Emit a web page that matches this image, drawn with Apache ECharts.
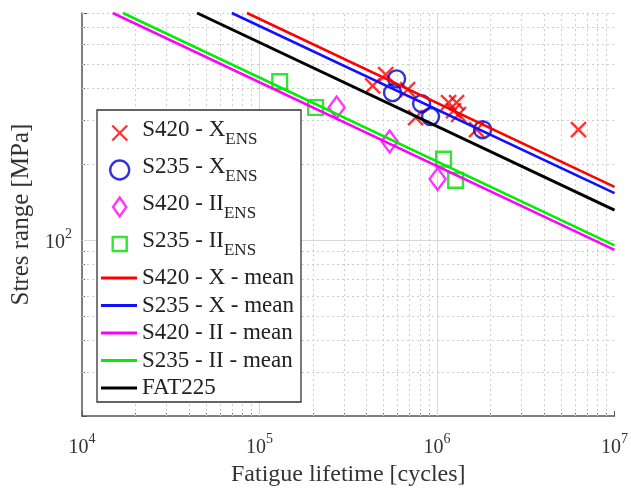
<!DOCTYPE html>
<html>
<head>
<meta charset="utf-8">
<script src="https://cdn.jsdelivr.net/npm/echarts@6/dist/echarts.min.js"></script>
<style>
html, body { margin: 0; padding: 0; background: #fff; }
#chart { width: 631px; height: 492px; }
</style>
</head>
<body>
<div id="chart"></div>
<script>
// test results: fatigue lifetime [cycles] / stress range [MPa]
var s420xN = [434000, 514000, 683000, 758000, 1162000, 1289000, 1240000, 1323000, 1671000, 6266000];
var s420xS = [411, 455, 397, 307, 352, 352, 327, 316, 275, 275];
var s235xN = [592000, 562000, 819000, 920000, 1806000];
var s235xS = [438, 386, 349, 310, 275];
var s420iiN = [272000, 541000, 1008000];
var s420iiS = [337, 247, 175];
var s235iiN = [130000, 207000, 1089000, 1273000];
var s235iiS = [427, 337, 210, 173];

// mean S-N curves (read at top edge and at 1e7)
var s420xMeanN = [85000, 1e7];
var s420xMeanS = [800, 163];
var s235xMeanN = [69800, 1e7];
var s235xMeanS = [800, 154];
var s420iiMeanN = [14900, 1e7];
var s420iiMeanS = [800, 91.5];
var s235iiMeanN = [17000, 1e7];
var s235iiMeanS = [800, 95.5];
var fatN = [44500, 1e7];
var fatS = [800, 131.6];

// grid lines
var majorX = [1e5, 1e6];
var majorY = [100];
var minorX = [2e4, 3e4, 4e4, 5e4, 6e4, 7e4, 8e4, 9e4,
              2e5, 3e5, 4e5, 5e5, 6e5, 7e5, 8e5, 9e5,
              2e6, 3e6, 4e6, 5e6, 6e6, 7e6, 8e6, 9e6];
var minorY = [30, 40, 50, 60, 70, 80, 90, 200, 300, 400, 500, 600, 700, 800];

var scatterNames = ['S420 - X_ENS', 'S235 - X_ENS', 'S420 - II_ENS', 'S235 - II_ENS'];
var lineNames = ['S420 - X - mean', 'S235 - X - mean', 'S420 - II - mean', 'S235 - II - mean', 'FAT225'];

var FONT = 'Liberation Serif';
var crossPath = 'path://M0,0M19,19M2,2L17,17M17,2L2,17';
var squarePath = 'path://M0,0M19,19M2.5,2.5L16.5,2.5L16.5,16.5L2.5,16.5Z';
var diamondPath = 'path://M7,0L14,10L7,20L0,10Z';

function pairs(a, b) {
  return a.map(function (v, i) { return [v, b[i]]; });
}

function powLabel(v) {
  var l = Math.log10(v);
  var e = Math.round(l);
  if (Math.abs(l - e) > 1e-6) return '';
  return '{b|10}{p|' + e + '}';
}

var powRich = {
  b: { fontFamily: FONT, fontSize: 20, color: '#333', lineHeight: 26, verticalAlign: 'bottom' },
  p: { fontFamily: FONT, fontSize: 14, color: '#333', verticalAlign: 'top' }
};

var gridData = [];
majorX.forEach(function (v) { gridData.push({ xAxis: v, lineStyle: { type: 'solid', color: '#d8d8d8' } }); });
majorY.forEach(function (v) { gridData.push({ yAxis: v, lineStyle: { type: 'solid', color: '#d8d8d8' } }); });
minorX.forEach(function (v) { gridData.push({ xAxis: v }); });
minorY.forEach(function (v) { gridData.push({ yAxis: v }); });

function markerSeries(name, n, s, symbol, size, color) {
  return {
    name: name,
    type: 'scatter',
    data: pairs(n, s),
    symbol: symbol,
    symbolSize: size,
    itemStyle: { color: 'transparent', borderColor: color, borderWidth: 2.4 },
    z: 3
  };
}

function meanSeries(name, n, s, color, width) {
  return {
    name: name,
    type: 'line',
    data: pairs(n, s),
    showSymbol: false,
    symbol: 'none',
    lineStyle: { color: color, width: width },
    itemStyle: { color: color },
    z: 4
  };
}

var option = {
  backgroundColor: '#fff',
  animation: false,
  grid: { left: 82, right: 16, top: 13, bottom: 74 },
  xAxis: {
    type: 'log',
    min: 1e4,
    max: 1e7,
    name: 'Fatigue lifetime [cycles]',
    nameLocation: 'middle',
    nameGap: 32,
    nameTextStyle: { fontFamily: FONT, fontSize: 24, color: '#333' },
    axisLine: { lineStyle: { color: '#555', width: 1.5 } },
    axisTick: { inside: true, length: 5, lineStyle: { color: '#555' } },
    minorTick: { show: true, splitNumber: 9, length: 3, lineStyle: { color: '#555' } },
    splitLine: { show: false },
    axisLabel: { formatter: powLabel, rich: powRich, margin: 16 }
  },
  yAxis: {
    type: 'log',
    min: 20,
    max: 800,
    name: 'Stres range [MPa]',
    nameLocation: 'middle',
    nameGap: 38,
    nameTextStyle: { fontFamily: FONT, fontSize: 25, color: '#333' },
    axisLine: { lineStyle: { color: '#555', width: 1.5 } },
    axisTick: { inside: true, length: 5, lineStyle: { color: '#555' } },
    minorTick: { show: true, splitNumber: 9, length: 3, lineStyle: { color: '#555' } },
    splitLine: { show: false },
    axisLabel: { formatter: powLabel, rich: powRich, margin: 10 }
  },
  legend: [{
    data: scatterNames,
    orient: 'vertical',
    left: 109,
    top: 118,
    padding: 0,
    itemWidth: 35,
    itemHeight: 19,
    itemGap: 7,
    selectedMode: false,
    itemStyle: { borderWidth: 2.4 },
    formatter: function (name) {
      var p = name.split('_');
      return '{a|' + p[0] + '}{s|' + p[1] + '}';
    },
    textStyle: {
      fontFamily: FONT,
      fontSize: 23,
      color: '#222',
      rich: {
        a: { fontFamily: FONT, fontSize: 23, color: '#222', lineHeight: 24, verticalAlign: 'top' },
        s: { fontFamily: FONT, fontSize: 17, color: '#222', lineHeight: 30, verticalAlign: 'bottom' }
      }
    }
  }, {
    data: lineNames.map(function (n) { return { name: n, icon: 'rect' }; }),
    orient: 'vertical',
    left: 101,
    top: 266,
    padding: 0,
    itemWidth: 36,
    itemHeight: 3,
    itemGap: 3.5,
    selectedMode: false,
    textStyle: { fontFamily: FONT, fontSize: 23, color: '#222', lineHeight: 24 }
  }],
  graphic: {
    elements: [{
      type: 'rect',
      x: 97,
      y: 110,
      shape: { x: 0, y: 0, width: 204, height: 292 },
      style: { fill: '#fff', stroke: '#333', lineWidth: 1.3 },
      z: 3
    }]
  },
  series: [
    {
      name: 'grid',
      type: 'line',
      data: [],
      z: 1,
      markLine: {
        silent: true,
        symbol: ['none', 'none'],
        label: { show: false },
        animation: false,
        z: 1,
        lineStyle: { type: [2, 3], color: '#cdcdcd', width: 1 },
        data: gridData
      }
    },
    markerSeries(scatterNames[0], s420xN, s420xS, crossPath, 19, '#ff0000'),
    markerSeries(scatterNames[1], s235xN, s235xS, 'circle', 17, '#0000cc'),
    markerSeries(scatterNames[2], s420iiN, s420iiS, diamondPath, [16, 22], '#ff00ff'),
    markerSeries(scatterNames[3], s235iiN, s235iiS, squarePath, 20, '#00dd00'),
    meanSeries(lineNames[0], s420xMeanN, s420xMeanS, '#ff0000', 2.5),
    meanSeries(lineNames[1], s235xMeanN, s235xMeanS, '#1010ff', 2.5),
    meanSeries(lineNames[2], s420iiMeanN, s420iiMeanS, '#ff00ff', 2.5),
    meanSeries(lineNames[3], s235iiMeanN, s235iiMeanS, '#00ee00', 2.5),
    meanSeries(lineNames[4], fatN, fatS, '#000000', 3)
  ]
};

var chart = echarts.init(document.getElementById('chart'));
chart.setOption(option);
</script>
</body>
</html>
